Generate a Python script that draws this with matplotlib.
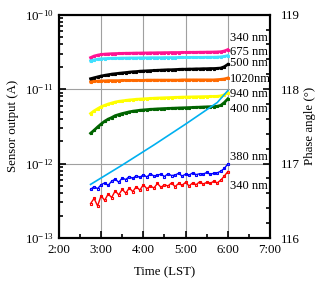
import matplotlib
matplotlib.use("Agg")
import matplotlib.pyplot as plt
import numpy as np
from matplotlib.ticker import LogLocator, MultipleLocator, FuncFormatter

plt.rcParams['font.family'] = ['Liberation Serif', 'DejaVu Serif']
plt.rcParams['mathtext.fontset'] = 'stix'

# time in minutes after midnight (LST)
minutes = [165, 170, 175, 180, 185, 190, 195, 200, 205, 210,
           215, 220, 225, 230, 235, 240, 245, 250, 255, 260,
           265, 270, 275, 280, 285, 290, 295, 300, 305, 310,
           315, 320, 325, 330, 335, 340, 345, 350, 355, 360]

# sensor output (A)
s340 = [2.65, 2.78, 2.86, 2.92, 2.95, 2.97, 2.99, 3.00, 3.01, 3.02,
        3.03, 3.03, 3.04, 3.05, 3.05, 3.06, 3.06, 3.07, 3.07, 3.08,
        3.08, 3.09, 3.09, 3.10, 3.10, 3.10, 3.11, 3.11, 3.12, 3.12,
        3.12, 3.13, 3.13, 3.14, 3.14, 3.15, 3.16, 3.18, 3.25, 3.40]
s675 = [2.40, 2.47, 2.52, 2.55, 2.57, 2.58, 2.59, 2.60, 2.60, 2.61,
        2.61, 2.62, 2.62, 2.62, 2.63, 2.63, 2.63, 2.64, 2.64, 2.64,
        2.64, 2.65, 2.65, 2.65, 2.65, 2.66, 2.66, 2.66, 2.66, 2.67,
        2.67, 2.67, 2.67, 2.68, 2.68, 2.68, 2.69, 2.71, 2.75, 2.82]
s500 = [1.38, 1.42, 1.46, 1.50, 1.53, 1.56, 1.59, 1.61, 1.63, 1.65,
        1.67, 1.69, 1.71, 1.72, 1.74, 1.75, 1.76, 1.77, 1.78, 1.79,
        1.80, 1.81, 1.82, 1.82, 1.83, 1.84, 1.85, 1.85, 1.86, 1.86,
        1.87, 1.87, 1.88, 1.88, 1.89, 1.89, 1.90, 1.92, 2.00, 2.15]
s1020 = [1.25, 1.27, 1.28, 1.29, 1.29, 1.30, 1.30, 1.30, 1.30, 1.31,
         1.31, 1.31, 1.31, 1.31, 1.31, 1.31, 1.32, 1.32, 1.32, 1.32,
         1.32, 1.32, 1.32, 1.32, 1.32, 1.32, 1.33, 1.33, 1.33, 1.33,
         1.33, 1.33, 1.33, 1.33, 1.33, 1.33, 1.34, 1.35, 1.37, 1.41]
s940 = [4.70, 5.10, 5.45, 5.80, 6.05, 6.30, 6.50, 6.70, 6.85, 6.95,
        7.05, 7.15, 7.22, 7.30, 7.35, 7.40, 7.45, 7.50, 7.54, 7.58,
        7.62, 7.65, 7.68, 7.71, 7.74, 7.77, 7.80, 7.82, 7.84, 7.86,
        7.88, 7.90, 7.92, 7.94, 7.96, 7.98, 8.00, 8.10, 8.40, 8.90]
s400 = [2.55, 2.80, 3.10, 3.40, 3.70, 3.95, 4.15, 4.40, 4.55, 4.70,
        4.82, 4.95, 5.05, 5.12, 5.20, 5.25, 5.30, 5.35, 5.38, 5.42,
        5.45, 5.48, 5.50, 5.53, 5.55, 5.58, 5.60, 5.62, 5.65, 5.67,
        5.70, 5.72, 5.75, 5.78, 5.80, 5.83, 5.88, 6.05, 6.60, 7.40]
s380 = [4.50, 4.90, 4.60, 5.20, 5.50, 5.10, 5.80, 6.20, 5.60, 6.40,
        6.10, 6.70, 6.30, 6.90, 6.50, 7.10, 6.60, 7.30, 6.80, 7.00,
        7.20, 6.70, 7.30, 6.90, 7.00, 7.40, 6.80, 7.20, 7.00, 7.50,
        7.10, 7.30, 7.20, 7.60, 7.20, 7.40, 7.50, 7.90, 8.60, 9.90]
s340b = [2.90, 3.40, 2.70, 3.70, 3.20, 3.90, 3.50, 4.30, 3.80, 4.50,
         4.00, 4.70, 4.20, 4.90, 4.40, 5.20, 4.60, 5.00, 4.70, 5.40,
         4.80, 5.20, 5.00, 5.50, 4.90, 5.40, 5.10, 5.60, 5.00, 5.50,
         5.20, 5.70, 5.30, 5.60, 5.40, 5.80, 5.50, 6.00, 6.80, 7.80]

# phase angle (deg)
phase_min = [165, 210, 255, 300, 345, 360]
phase = [116.72, 116.98, 117.25, 117.53, 117.82, 117.98]

t = np.array(minutes) / 60.0
series = [
    (s340, 1e-11, '#ff1493'),
    (s675, 1e-11, '#40e0ff'),
    (s500, 1e-11, 'black'),
    (s1020, 1e-11, '#ff6a00'),
    (s940, 1e-12, '#ffff00'),
    (s400, 1e-12, '#006400'),
    (s380, 1e-13, '#0000ff'),
    (s340b, 1e-13, '#ff0000'),
]

labels = [('340 nm', 4.9e-11), ('675 nm', 3.2e-11), ('500 nm', 2.25e-11),
          ('1020nm', 1.38e-11), ('940 nm', 8.5e-12), ('400 nm', 5.4e-12),
          ('380 nm', 1.22e-12), ('340 nm', 5.0e-13)]

fs = 9.3
fig = plt.figure(figsize=(3.2, 2.82), dpi=100)
ax = fig.add_axes([0.184, 0.156, 0.66, 0.792])

for vals, scale, col in series:
    y = np.array(vals) * scale
    noisy = scale == 1e-13
    ax.plot(t, y, color=col, lw=1.0 if noisy else 2.0, marker='s',
            ms=2.0 if noisy else 1.6, mfc='none' if noisy else col,
            mew=0.8, zorder=3)

ax.set_yscale('log')
ax.set_ylim(1e-13, 1e-10)
ax.set_xlim(2, 7)
ax.set_xticks([2, 3, 4, 5, 6, 7])
ax.set_xticklabels(['2:00', '3:00', '4:00', '5:00', '6:00', '7:00'])
ax.xaxis.set_minor_locator(MultipleLocator(0.5))
ax.yaxis.set_major_locator(LogLocator(base=10, numticks=10))
ax.yaxis.set_minor_locator(LogLocator(base=10, subs=np.arange(2, 10), numticks=10))
ax.yaxis.set_minor_formatter(FuncFormatter(lambda v, p: ''))
ax.grid(True, which='major', color='#a0a0a0', lw=0.8)
ax.tick_params(which='both', direction='in', labelsize=fs, width=1.2)
ax.tick_params(which='major', length=5)
ax.tick_params(which='minor', length=3)
ax.tick_params(axis='y', which='both', right=False, pad=4)
ax.tick_params(axis='x', pad=4)
for sp in ax.spines.values():
    sp.set_linewidth(1.5)
ax.set_xlabel('Time (LST)', fontsize=fs, labelpad=8)
ax.set_ylabel('Sensor output (A)', fontsize=fs, labelpad=4)

for txt, yv in labels:
    ax.text(6.05, yv, txt, fontsize=9, va='center', ha='left', zorder=4,
            bbox=dict(facecolor='white', edgecolor='none', pad=0.2))

ax2 = ax.twinx()
ax2.plot(np.array(phase_min) / 60.0, phase, color='#00b0f0', lw=1.2, zorder=2)
ax2.set_ylim(116, 119)
ax2.set_yticks([116, 117, 118, 119])
ax2.yaxis.set_minor_locator(MultipleLocator(0.2))
ax2.tick_params(which='both', direction='in', labelsize=fs, width=1.2)
ax2.tick_params(which='major', length=5, pad=8)
ax2.tick_params(which='minor', length=3)
ax2.set_ylabel('Phase angle (°)', fontsize=fs, labelpad=3)
for sp in ax2.spines.values():
    sp.set_linewidth(1.5)

fig.savefig('out.png', dpi=100)
